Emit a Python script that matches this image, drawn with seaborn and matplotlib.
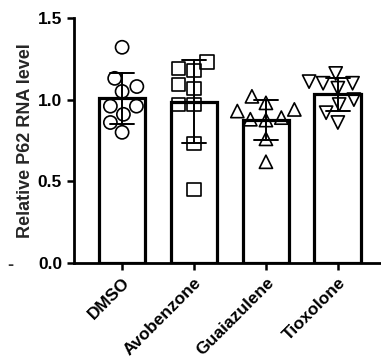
import numpy as np
import pandas as pd
import matplotlib
matplotlib.use("Agg")
import matplotlib.pyplot as plt
import seaborn as sns

# values, 9 replicates per treatment
groups = ["DMSO", "Avobenzone", "Guaiazulene", "Tioxolone"]
dmso = [1.32, 1.08, 1.13, 1.05, 0.96, 0.91, 0.96, 0.86, 0.80]
avobenzone = [1.18, 1.23, 1.19, 1.07, 1.09, 0.97, 0.97, 0.73, 0.45]
guaiazulene = [1.02, 0.98, 0.94, 0.93, 0.89, 0.875, 0.88, 0.76, 0.62]
tioxolone = [1.16, 1.10, 1.10, 1.11, 1.07, 0.97, 1.00, 0.92, 0.86]
markers = ["o", "s", "^", "v"]

df = pd.DataFrame({
    "group": np.repeat(groups, 9),
    "value": dmso + avobenzone + guaiazulene + tioxolone,
})

sns.set_style("ticks")
plt.rcParams["font.family"] = ["Liberation Sans", "DejaVu Sans"]
plt.rcParams["font.weight"] = "bold"

fig = plt.figure(figsize=(3.81, 3.64), dpi=100)
ax = fig.add_axes([0.194, 0.277, 0.806, 0.674])

sns.barplot(data=df, x="group", y="value", order=groups, errorbar="sd",
            width=0.65, color="white", edgecolor="black", linewidth=2.3,
            capsize=0.33, err_kws={"color": "black", "linewidth": 1.4}, ax=ax)

for g, m in zip(groups, markers):
    sns.swarmplot(data=df[df.group == g], x="group", y="value", order=groups,
                  marker=m, size=9.5, facecolors="none", edgecolor="black",
                  linewidth=1.2, ax=ax)

ax.set_ylim(0, 1.5)
ax.set_xlim(-0.67, 3.6)
ax.set_yticks([0, 0.5, 1.0, 1.5])
ax.set_yticklabels(["0.0", "0.5", "1.0", "1.5"])
ax.set_xlabel("")
ax.set_ylabel("Relative P62 RNA level", fontsize=13, fontweight="bold", labelpad=3)
ax.tick_params(axis="both", width=1.8, length=5, labelsize=12.5, colors="black")
plt.setp(ax.get_xticklabels(), rotation=45, ha="right", rotation_mode="anchor",
         fontweight="bold")
plt.setp(ax.get_yticklabels(), fontweight="bold")
for s in ["left", "bottom"]:
    ax.spines[s].set_linewidth(2)
    ax.spines[s].set_color("black")
sns.despine(ax=ax)

fig.text(0.02, 0.258, "-", fontsize=13, color="#333333")

fig.savefig("out.png", dpi=100)
